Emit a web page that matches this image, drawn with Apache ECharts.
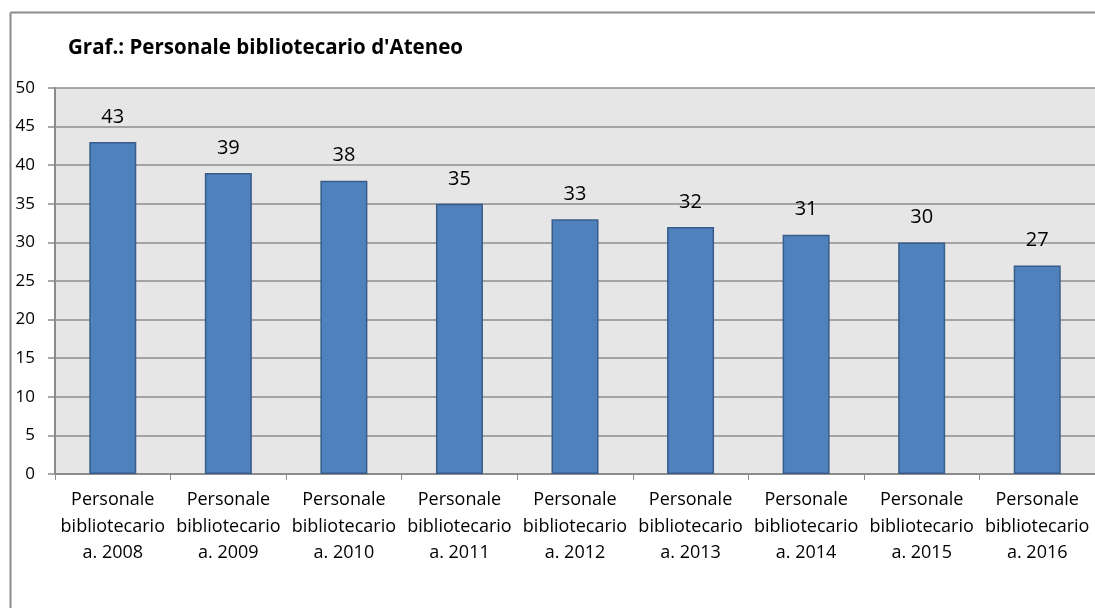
<!DOCTYPE html>
<html>
<head>
<meta charset="utf-8">
<style>
  html, body { margin: 0; padding: 0; background: #fff; overflow: hidden; }
  #main { width: 1095px; height: 608px; }
</style>
<script src="https://cdn.jsdelivr.net/npm/echarts@6/dist/echarts.min.js"></script>
</head>
<body>
<div id="main"></div>
<script>
// dati
var categories = [
  'Personale\nbibliotecario\na. 2008', 'Personale\nbibliotecario\na. 2009',
  'Personale\nbibliotecario\na. 2010', 'Personale\nbibliotecario\na. 2011',
  'Personale\nbibliotecario\na. 2012', 'Personale\nbibliotecario\na. 2013',
  'Personale\nbibliotecario\na. 2014', 'Personale\nbibliotecario\na. 2015',
  'Personale\nbibliotecario\na. 2016'
]
var values = [43, 39, 38, 35, 33, 32, 31, 30, 27]
var yMin = 0, yMax = 50, yStep = 5

var font = '"Open Sans", sans-serif'
var myChart = echarts.init(document.getElementById('main'))
myChart.setOption({
  animation: false,
  title: {
    text: "Graf.: Personale bibliotecario d'Ateneo",
    left: 63,
    top: 33,
    textStyle: { fontFamily: font, fontSize: 20.5, fontWeight: 'bold', color: '#000' }
  },
  graphic: [{
    type: 'line',
    shape: { x1: 10.5, y1: 12.5, x2: 1095, y2: 12.5 },
    style: { stroke: '#8c8c8c', lineWidth: 2 },
    silent: true
  }, {
    type: 'line',
    shape: { x1: 10.5, y1: 12.5, x2: 10.5, y2: 608 },
    style: { stroke: '#8c8c8c', lineWidth: 2 },
    silent: true
  }],
  grid: {
    left: 55,
    top: 88,
    right: 0,
    height: 386,
    show: true,
    backgroundColor: '#e6e6e6',
    borderWidth: 0
  },
  xAxis: {
    type: 'category',
    data: categories,
    axisLine: { lineStyle: { color: '#8c8c8c', width: 2 } },
    axisTick: { show: true, length: 6, lineStyle: { color: '#8c8c8c', width: 1 } },
    axisLabel: {
      interval: 0,
      margin: 13,
      color: '#000',
      fontFamily: font,
      fontSize: 18,
      lineHeight: 26.5
    }
  },
  yAxis: {
    type: 'value',
    min: yMin,
    max: yMax,
    interval: yStep,
    axisLine: { show: true, lineStyle: { color: '#8c8c8c', width: 2 } },
    axisTick: { show: true, length: 7, lineStyle: { color: '#8c8c8c', width: 1.5 } },
    splitLine: { lineStyle: { color: '#8c8c8c', width: 1.5 } },
    axisLabel: {
      margin: 20,
      color: '#000',
      fontFamily: font,
      fontSize: 17
    }
  },
  series: [{
    type: 'bar',
    data: values,
    barWidth: 47,
    itemStyle: { color: '#4f81bd', borderColor: '#385d8a', borderWidth: 1.5 },
    label: {
      show: true,
      position: 'top',
      distance: 15,
      color: '#000',
      fontFamily: font,
      fontSize: 20
    }
  }]
})
</script>
</body>
</html>
